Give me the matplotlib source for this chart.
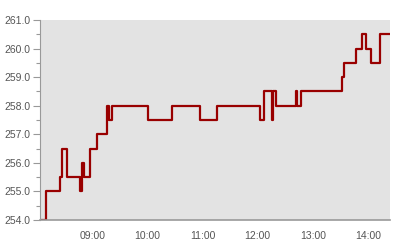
import pandas as pd
import matplotlib.pyplot as plt
import matplotlib.dates as mdates
from matplotlib.ticker import MultipleLocator, FormatStrFormatter


# ==========================================
# Data
# ==========================================

times = [
    "08:03", "08:09", "08:25", "08:27", "08:32", "08:46", "08:49", "08:51",
    "08:57", "09:05", "09:16", "09:18", "09:21", "10:01", "10:27", "10:57",
    "11:16", "12:03", "12:07", "12:16", "12:17", "12:20", "12:42", "12:43",
    "12:47", "13:32", "13:34", "13:47", "13:54", "13:58", "14:03", "14:13",
    "14:24",
]

prices = [
    254.0, 255.0, 255.5, 256.5, 255.5, 255.0, 256.0, 255.5,
    256.5, 257.0, 258.0, 257.5, 258.0, 257.5, 258.0, 257.5,
    258.0, 257.5, 258.5, 257.5, 258.5, 258.0, 258.5, 258.0,
    258.5, 259.0, 259.5, 260.0, 260.5, 260.0, 259.5, 260.5,
    260.5,
]

x = pd.to_datetime(["2024-01-02 " + t for t in times])


# ==========================================
# Chart
# ==========================================

plt.rcParams["font.family"] = ["Liberation Sans", "DejaVu Sans"]

fig = plt.figure(figsize=(4, 2.4), dpi=100)
ax = fig.add_axes([0.10, 0.083, 0.875, 0.834])

ax.set_facecolor("#e3e3e3")

ax.plot(
    x,
    prices,
    drawstyle="steps-post",
    color="#990000",
    linewidth=1.6
)

ax.set_xlim(x[0], x[-1])
ax.set_ylim(254.0, 261.0)

ax.yaxis.set_major_locator(MultipleLocator(1.0))
ax.yaxis.set_minor_locator(MultipleLocator(0.5))
ax.yaxis.set_major_formatter(FormatStrFormatter("%.1f"))

ax.xaxis.set_major_locator(mdates.HourLocator())
ax.xaxis.set_major_formatter(mdates.DateFormatter("%H:%M"))

ax.tick_params(axis="y", which="major", length=5, width=0.8,
               color="#999999", labelcolor="#555555", labelsize=7.5, pad=2)
ax.tick_params(axis="y", which="minor", length=3, width=0.8, color="#999999")
ax.tick_params(axis="x", length=0, labelcolor="#555555", labelsize=7.5, pad=8)

ax.spines["top"].set_visible(False)
ax.spines["right"].set_visible(False)
ax.spines["left"].set_color("#999999")
ax.spines["bottom"].set_color("#999999")
ax.spines["bottom"].set_linewidth(1.2)

fig.savefig("out.png", dpi=100)
